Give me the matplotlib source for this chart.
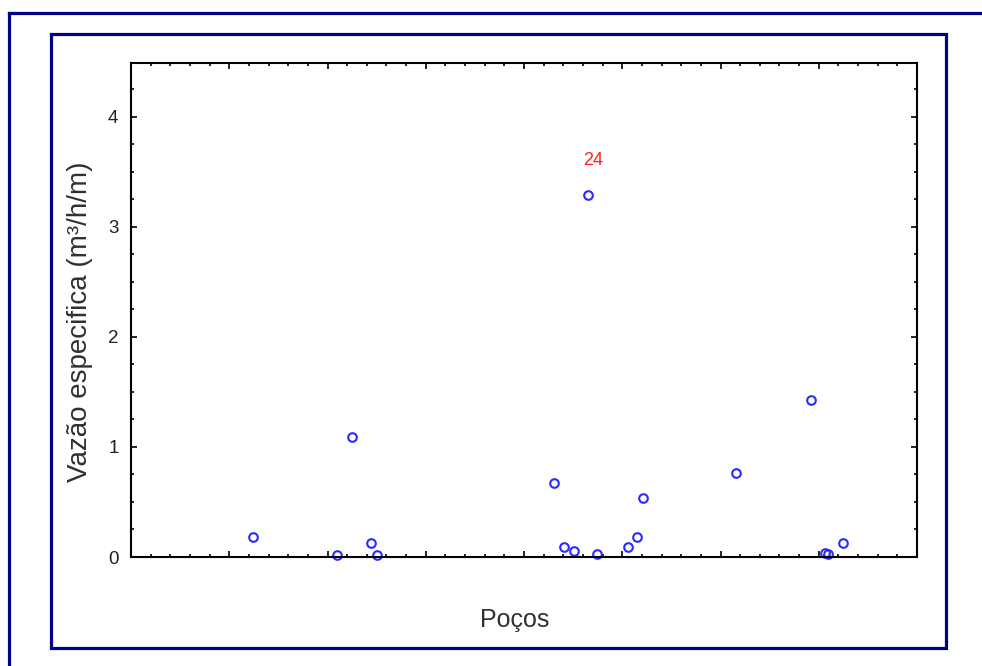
import matplotlib
matplotlib.use("Agg")
import matplotlib.pyplot as plt
from matplotlib.lines import Line2D
from matplotlib.patches import Rectangle
from matplotlib.ticker import MultipleLocator, NullFormatter

# Data (x = position along the "Poços" axis, y = specific flow)
pocos_x = [6.21, 10.48, 11.25, 12.21, 12.52, 21.53, 22.04, 22.54, 23.26, 23.72,
           25.29, 25.75, 26.06, 30.79, 34.61, 35.32, 35.47, 36.23]
vazao_y = [0.18, 0.02, 1.09, 0.13, 0.02, 0.67, 0.09, 0.05, 3.29, 0.03,
           0.09, 0.18, 0.54, 0.76, 1.43, 0.04, 0.03, 0.13]
outlier_label = "24"
outlier_index = 8
y_ticks = [0, 1, 2, 3, 4]

W, H = 982, 666
fig = plt.figure(figsize=(W / 100, H / 100), dpi=100)
plt.rcParams['font.family'] = ['Liberation Sans', 'DejaVu Sans']

navy = '#000088'
# outer frame (extends beyond right/bottom)
fig.add_artist(Line2D([9 / W, 1.01], [1 - 12.5 / H] * 2, transform=fig.transFigure,
                      color=navy, lw=2.3, solid_capstyle='projecting'))
fig.add_artist(Line2D([9 / W] * 2, [1 - 12.5 / H, -0.01], transform=fig.transFigure,
                      color=navy, lw=2.3, solid_capstyle='projecting'))
# inner frame
fig.add_artist(Rectangle((51 / W, 1 - 647.5 / H), (945.5 - 51) / W, (647.5 - 34) / H,
                         transform=fig.transFigure, fill=False, edgecolor=navy, lw=2.3))

ax = fig.add_axes([131 / W, 1 - 557 / H, (917 - 131) / W, (557 - 63) / H])
ax.plot(pocos_x, vazao_y, linestyle='none', marker='o', markersize=6.2,
        markerfacecolor='none', markeredgecolor='#2a2aff', markeredgewidth=1.5,
        clip_on=False)
ax.annotate(outlier_label, (pocos_x[outlier_index], vazao_y[outlier_index]),
            xytext=(3.5, 25), textcoords='offset points', ha='center', va='center',
            color='#ff2020', fontsize=13)

ax.set_xlim(0, 40)
ax.set_ylim(0, 4.49)
ax.xaxis.set_major_locator(MultipleLocator(5))
ax.xaxis.set_minor_locator(MultipleLocator(1))
ax.xaxis.set_major_formatter(NullFormatter())
ax.set_yticks(y_ticks)
ax.set_yticklabels([str(t) for t in y_ticks])
ax.yaxis.set_minor_locator(MultipleLocator(0.25))
ax.tick_params(which='both', direction='in', top=True, right=True, width=1.2, colors='black')
ax.tick_params(which='major', length=4)
ax.tick_params(which='minor', length=2.2)
ax.tick_params(axis='y', which='major', labelsize=13.5, pad=9, labelcolor='#202020')
for s in ax.spines.values():
    s.set_linewidth(1.5)

fig.text(80 / W, 1 - 322 / H, "Vazão especifica (m³/h/m)", rotation=90,
         ha='center', va='center', fontsize=20, color='#303030')
fig.text(515 / W, 1 - 620 / H, "Poços", ha='center', va='center', fontsize=18,
         color='#303030')

fig.savefig("out.png", dpi=100)
